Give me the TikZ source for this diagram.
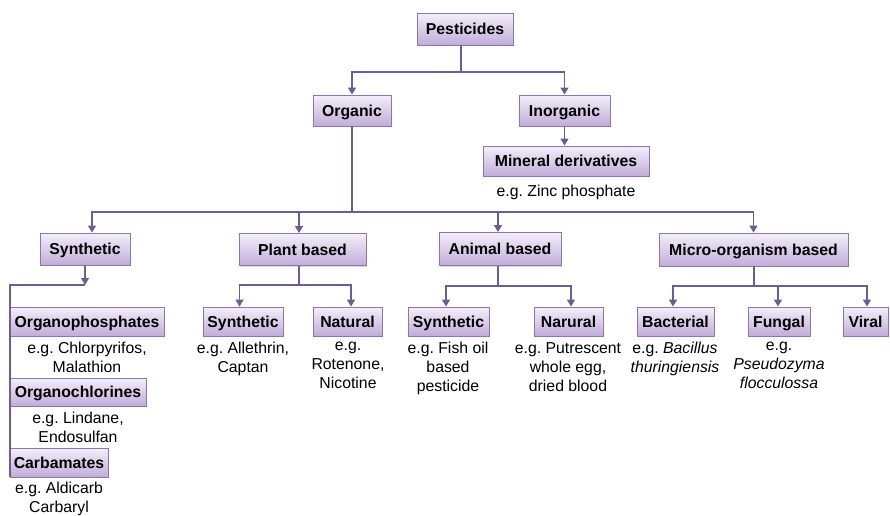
\documentclass[tikz,border=0pt]{standalone}
\usepackage{fontspec}
\setmainfont{Liberation Sans}
\usetikzlibrary{arrows.meta,shadows}
\frenchspacing

\definecolor{boxtop}{HTML}{F4EFF9}
\definecolor{boxbot}{HTML}{C1ACD9}
\definecolor{boxedge}{HTML}{8D76AE}
\definecolor{linkcol}{HTML}{6E5D90}

\tikzset{
  cat/.style={draw=boxedge, line width=0.9pt, top color=boxtop, bottom color=boxbot,
    inner sep=0pt, minimum height=29pt, text height=11.4pt, text depth=0pt,
    font=\fontsize{15.8}{19}\selectfont\bfseries,
    drop shadow={shadow xshift=1pt, shadow yshift=-1pt, fill=black!30, opacity=0.5}},
  eg/.style={align=center, inner sep=0pt, anchor=north,
    font=\fontsize{15.8}{19}\selectfont\frenchspacing, execute at begin node=\strut},
  link/.style={draw=linkcol, line width=1.4pt},
  arr/.style={link, -{Triangle[width=8pt,length=7pt]}},
}

\begin{document}
\begin{tikzpicture}[x=1pt,y=-1pt]
\useasboundingbox (0,0) rectangle (890,515);

% top levels
\node[cat, minimum width=96pt, minimum height=32pt] (pest) at (465,29) {Pesticides};
\node[cat, minimum width=78pt, minimum height=31pt] (org) at (352,110.5) {Organic};
\node[cat, minimum width=91pt, minimum height=31pt] (inorg) at (564.5,110.5) {Inorganic};
\node[cat, minimum width=166pt, minimum height=30pt] (mineral) at (566,161) {Mineral derivatives};
\node[eg] (zinc) at (566,183) {e.g. Zinc phosphate};

% organic groups
\node[cat, minimum width=90pt, minimum height=32pt] (syn) at (85,249) {Synthetic};
\node[cat, minimum width=127pt, minimum height=32pt] (plant) at (302.5,249.5) {Plant based};
\node[cat, minimum width=122pt, minimum height=33pt] (animal) at (500,249) {Animal based};
\node[cat, minimum width=189pt, minimum height=33pt] (micro) at (753.5,249.5) {Micro-organism based};

% synthetic classes
\node[cat, minimum width=154pt] (ophos) at (87,321.5) {Organophosphates};
\node[eg] (ophosx) at (87,342) {e.g. Chlorpyrifos,\\Malathion};
\node[cat, minimum width=136pt, minimum height=28pt] (ochl) at (78,392) {Organochlorines};
\node[eg] (ochlx) at (78,412) {e.g. Lindane,\\Endosulfan};
\node[cat, minimum width=98pt] (carb) at (59,462.5) {Carbamates};
\node[eg] (carbx) at (59,482) {e.g. Aldicarb\\Carbaryl};

% plant based
\node[cat, minimum width=80pt] (psyn) at (243,321.5) {Synthetic};
\node[eg] (psynx) at (243,342) {e.g. Allethrin,\\Captan};
\node[cat, minimum width=69pt] (pnat) at (347.5,321.5) {Natural};
\node[eg] (pnatx) at (348,342) {e.g.\\Rotenone,\\Nicotine};

% animal based
\node[cat, minimum width=81pt] (asyn) at (448.5,321.5) {Synthetic};
\node[eg] (asynx) at (448,342) {e.g. Fish oil\\based\\pesticide};
\node[cat, minimum width=69pt] (anat) at (568.5,321.5) {Narural};
\node[eg] (anatx) at (568,342) {e.g. Putrescent\\whole egg,\\dried blood};

% micro-organism based
\node[cat, minimum width=77pt] (bact) at (675.5,321.5) {Bacterial};
\node[eg] (bactx) at (675,342) {e.g. \textit{Bacillus}\\\textit{thuringiensis}};
\node[cat, minimum width=62pt] (fung) at (779,321.5) {Fungal};
\node[eg] (fungx) at (779,342) {e.g.\\\textit{Pseudozyma}\\\textit{flocculossa}};
\node[cat, minimum width=45pt] (viral) at (865.5,321.5) {Viral};

% connectors: pesticides
\coordinate (j1) at (461,72);
\draw[link] (j1 |- pest.south) -- (j1);
\draw[arr] (j1) -| (org.north);
\draw[arr] (j1) -| (inorg.north);
\draw[arr] (inorg.south) -- (inorg.south |- mineral.north);

% connectors: organic
\coordinate (j2) at (352,212);
\draw[link] (org.south) -- (j2);
\draw[arr] (j2) -| ([xshift=7pt]syn.north);
\draw[arr] (j2) -| ([xshift=-3.5pt]plant.north);
\draw[arr] (j2) -| ([xshift=-2pt]animal.north);
\draw[arr] (j2) -| (micro.north);

% connectors: synthetic
\coordinate (j3) at (10,285);
\draw[arr] (syn.south) -- (syn.south |- j3);
\draw[link] (syn.south |- j3) -- (j3) -- (j3 |- carb.south);

% connectors: plant based
\coordinate (j4) at (299,285);
\draw[link] (j4 |- plant.south) -- (j4);
\draw[arr] (j4) -| ([xshift=-3.5pt]psyn.north);
\draw[arr] (j4) -| ([xshift=3.5pt]pnat.north);

% connectors: animal based
\coordinate (j5) at (498,286);
\draw[link] (j5 |- animal.south) -- (j5);
\draw[arr] (j5) -| ([xshift=-2.5pt]asyn.north);
\draw[arr] (j5) -| ([xshift=2.5pt]anat.north);

% connectors: micro-organism based
\coordinate (j6) at (754,286);
\draw[link] (j6 |- micro.south) -- (j6);
\draw[arr] (j6) -| ([xshift=-2.5pt]bact.north);
\draw[arr] (j6) -| ([xshift=-1pt]fung.north);
\draw[arr] (j6) -| ([xshift=1.5pt]viral.north);
\end{tikzpicture}
\end{document}
